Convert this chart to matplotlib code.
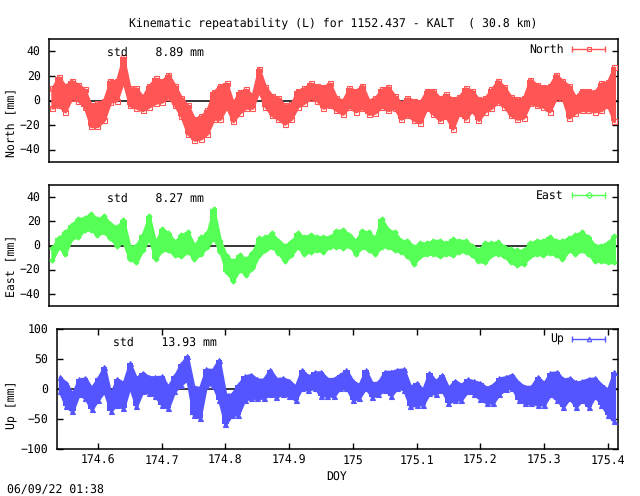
import matplotlib
matplotlib.use("Agg")
import matplotlib.pyplot as plt
import numpy as np

W, H = 640, 496
plt.rcParams["font.family"] = ["DejaVu Sans Mono"]
plt.rcParams["font.size"] = 8.3
plt.rcParams["text.hinting"] = "no_hinting"

# one sample every 0.01 day, upper and lower edge of the scatter band (mm)
doy = [round(174.54 + 0.01 * i, 2) for i in range(88)]

north_hi = [10, 19, 12, 16, 13, 9, -4, -2, 0, 16, 16, 35, 10, 10, 3, 12, 18, 16, 21, 12,
            2, -4, -15, -13, -8, 7, 12, 14, -2, 7, 9, 4, 26, 11, 4, 2, -4, -3, 8, 10,
            14, 12, 11, 14, 2, 0, 10, 8, 12, 0, 2, 9, 11, 4, -2, 2, 0, -1, 8, 8,
            2, 5, 1, 3, 10, 8, 1, 2, 9, 16, 11, 3, 1, 2, 17, 13, 11, 12, 21, 16,
            12, 3, 8, 8, 7, 14, 15, 27]
north_lo = [-6, -4, -9, 2, 0, -5, -21, -21, -16, -1, 0, 16, -4, -6, -8, -5, -2, -1, 3, -4,
            -13, -27, -32, -31, -27, -15, -15, -5, -17, -10, -6, -6, 8, -5, -12, -15, -19, -15, -5, -2,
            2, 0, -6, -4, -8, -11, -5, -9, -6, -11, -10, -5, -8, -6, -15, -12, -16, -18, -6, -11,
            -16, -13, -23, -10, -15, -8, -16, -9, -6, -1, -5, -12, -15, -14, -2, -4, -5, -9, 2, 2,
            -14, -10, -8, -8, -9, -8, -4, -17]

east_hi = [-2, 6, 11, 17, 22, 23, 26, 22, 24, 18, 15, 21, -1, 0, 9, 24, 2, 14, 10, 3,
           9, 11, 0, 7, 10, 30, 4, -9, -13, -8, -11, -6, 6, 7, 10, 4, 0, 3, 10, 7,
           9, 7, 7, 7, 12, 13, 9, 4, 12, 11, 6, 22, 13, 11, 4, 4, -1, 2, 2, 4,
           4, 2, 5, 4, 4, 0, -4, 2, 2, 3, -1, -3, -4, -4, 2, 4, 4, 7, 4, 4,
           6, 9, 11, 7, 0, 0, 2, 8]
east_lo = [-12, -1, -7, 6, 7, 13, 13, 9, 11, 6, 0, 3, -11, -14, -4, 6, -11, -4, -4, -8,
           -9, -5, -11, -7, -1, 6, -5, -22, -29, -20, -24, -19, -8, -4, -1, -6, -13, -8, -1, -7,
           -5, -4, -5, -1, -1, -2, 0, -7, -1, -4, -7, -1, -1, -4, -5, -9, -15, -9, -7, -7,
           -9, -7, -8, -5, -5, -8, -13, -14, -8, -7, -9, -14, -16, -15, -9, -7, -8, -6, -8, -11,
           -4, -7, -4, -7, -13, -13, -14, -14]

up_hi = [20, 10, -8, 16, 18, 2, 18, 37, -9, 17, 10, 43, 18, 27, 20, 20, 21, 4, 21, 41,
         55, 4, 2, 33, 32, 49, -9, -9, 7, 21, 24, 16, 16, 32, 17, 18, 14, 4, 32, 21,
         28, 28, 17, 17, 24, 31, 13, 7, 31, 10, 11, 29, 29, 32, 33, 4, 10, -1, 27, 13,
         24, 2, 14, 7, 16, 13, 10, 2, 7, 18, 20, 24, 10, 4, 4, 20, 10, 27, 28, 16,
         18, 11, 13, 17, 18, 7, -1, 29]
up_lo = [-4, -29, -37, -9, -15, -34, -18, -4, -36, -26, -32, 4, -29, -4, -6, -12, -26, -32, -4, 7,
         16, -43, -48, 7, 7, -18, -59, -43, -43, -18, -15, -15, -15, -9, -13, -8, -12, -18, 2, -2,
         2, -11, -11, -12, 2, 2, -18, -15, 2, -13, -9, -1, -11, 2, -1, -29, -26, -26, -7, -8,
         -2, -23, -18, -18, -4, -8, -17, -23, -23, -8, 0, 2, -18, -24, -23, -26, -26, -9, -18, -30,
         -15, -30, -18, -30, -12, -26, -43, -54]

north_ticks = [-40, -20, 0, 20, 40]
east_ticks = [-40, -20, 0, 20, 40]
up_ticks = [-100, -50, 0, 50, 100]
doy_ticks = [174.6, 174.7, 174.8, 174.9, 175, 175.1, 175.2, 175.3, 175.4]
doy_labels = ["174.6", "174.7", "174.8", "174.9", "175", "175.1", "175.2", "175.3", "175.4"]

fig = plt.figure(figsize=(W / 100, H / 100), dpi=100)


def add_panel(left, top, right, bottom, hi, lo, color, marker, ms, ylim, yticks,
              ylabel, ylabel_y, name, name_x, std, std_x):
    ax = fig.add_axes([left / W, 1 - bottom / H, (right - left) / W, (bottom - top) / H])
    ax.axhline(0, color="black", lw=1.1, zorder=1)
    # blocky band; the plain fill closes the gaps between neighbouring steps
    ax.fill_between(doy, lo, hi, step="mid", color=color, lw=0, zorder=2)
    ax.fill_between(doy, lo, hi, color=color, lw=2, zorder=2)
    for edge in (hi, lo):
        ax.plot(doy, edge, ls="none", marker=marker, ms=ms, mfc="none" if marker == "s" else color,
                mec=color, mew=0.8, zorder=3)
    ax.set_xlim(174.535, 175.416)
    ax.set_ylim(*ylim)
    ax.set_yticks(yticks)
    ax.tick_params(axis="y", direction="in", length=4, width=1, right=True, pad=6)
    ax.set_xticks([])
    for s in ax.spines.values():
        s.set_linewidth(1.1)
    fig.text(11 / W, 1 - ylabel_y / H, ylabel, rotation=90, ha="center", va="center")
    fig.text(std_x / W, 1 - (top + 13) / H, std, ha="left", va="center")
    # legend sample, gnuplot style with end caps
    ly = top + 10
    fig.text(name_x / W, 1 - ly / H, name, ha="right", va="center")
    lx = ax.transData.inverted().transform([(572, 0), (605, 0), (588.5, 0)])[:, 0]
    ly_ax = (bottom - ly) / (bottom - top)
    trans = ax.get_xaxis_transform()
    ax.plot(lx[:2], [ly_ax, ly_ax], color=color, lw=1, transform=trans, marker="|", ms=5, mew=1)
    ax.plot(lx[2:], [ly_ax], color=color, transform=trans, marker=marker, ms=3.2,
            mfc="none", mew=0.8)
    return ax


add_panel(49, 39, 618, 162, north_hi, north_lo, "#ff5555", "s", 3.6, (-50, 50), north_ticks,
          "North [mm]", 122, "North", 564, "std    8.89 mm", 107)
add_panel(49, 185, 618, 306, east_hi, east_lo, "#55ff55", "D", 2.6, (-50, 50), east_ticks,
          "East [mm]", 266, "East", 564, "std    8.27 mm", 107)
ax3 = add_panel(56.5, 329, 618, 449, up_hi, up_lo, "#5555ff", "^", 3.6, (-100, 100), up_ticks,
                "Up [mm]", 405, "Up", 564, "std    13.93 mm", 113)
ax3.set_xticks(doy_ticks)
ax3.set_xticklabels(doy_labels)
ax3.tick_params(axis="x", direction="in", length=4, width=1, top=True, pad=4)

fig.text(333 / W, 1 - 23 / H, "Kinematic repeatability (L) for 1152.437 - KALT  ( 30.8 km)",
         ha="center", va="center")
fig.text(337 / W, 1 - 477 / H, "DOY", ha="center", va="center")
fig.text(7 / W, 1 - 491 / H, "06/09/22 01:38", ha="left", va="center")

fig.savefig("out.png", dpi=100)
